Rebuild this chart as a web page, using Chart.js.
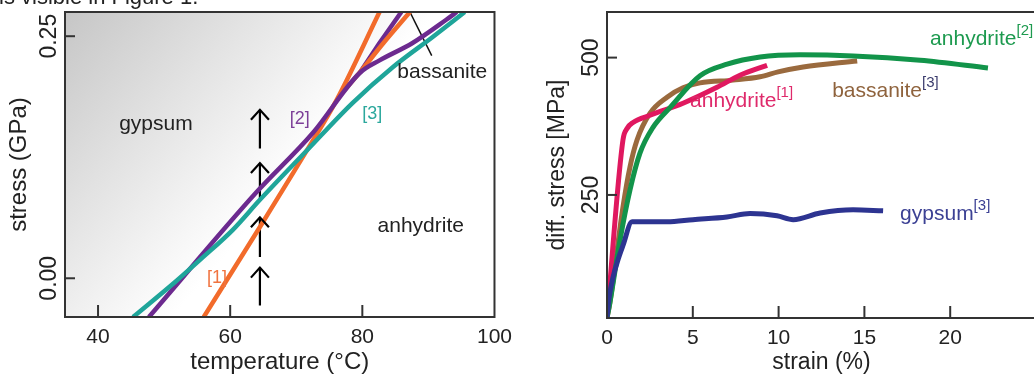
<!DOCTYPE html>
<html><head><meta charset="utf-8">
<script src="https://cdn.jsdelivr.net/npm/chart.js@4.4.1/dist/chart.umd.min.js"></script>
<style>
html,body{margin:0;padding:0;background:#fff;overflow:hidden;width:1034px;height:376px;}
#wrap{position:relative;width:1034px;height:376px;overflow:hidden;}
#c1{position:absolute;left:0;top:0;}
#c2{position:absolute;left:520px;top:0;}
#cap{position:absolute;left:-1px;top:-14px;font:22px "Liberation Sans",Arial,sans-serif;color:#222;line-height:22px;white-space:nowrap;}
</style></head><body>
<div id="wrap">
<canvas id="c1" width="520" height="376"></canvas>
<canvas id="c2" width="560" height="376"></canvas>
<div id="cap">is visible in Figure 1.</div>
</div>
<script>
// ---------- tick labels ----------
const tempTicks = [40, 60, 80, 100];
const stressGPaTicks = [0.00, 0.25];
const strainTicks = [0, 5, 10, 15, 20];
const diffStressTicks = [250, 500];

// ---------- left panel: phase boundaries (temperature °C, stress GPa) ----------
const ref1Temp = [56.0, 64.5, 71.6, 76.1, 82.6];
const ref1Stress = [-0.040, 0.053, 0.132, 0.184, 0.275];
const ref1BassTemp = [77.0, 79.9, 83.2, 87.2];
const ref1BassStress = [0.192, 0.215, 0.243, 0.275];
const ref2Temp = [47.7, 64.0, 72.5, 79.6, 82.6, 87.6, 92.7, 94.3];
const ref2Stress = [-0.040, 0.089, 0.150, 0.212, 0.225, 0.243, 0.267, 0.275];
const ref2BassTemp = [79.6, 82.6, 85.9];
const ref2BassStress = [0.212, 0.243, 0.275];
const ref3Temp = [45.3, 51.8, 55.6, 60.4, 64.5, 71.6, 78.5, 84.6, 90.6, 95.5];
const ref3Stress = [-0.040, -0.003, 0.020, 0.050, 0.081, 0.132, 0.181, 0.218, 0.249, 0.275];
const arrowTemp = 64.5;
const arrowFrom = [-0.028, 0.022, 0.079, 0.134];
const arrowTo = [0.011, 0.063, 0.119, 0.174];
const leaderTemp = [87.2, 90.5];
const leaderStress = [0.275, 0.230];

// ---------- right panel: stress-strain (strain %, diff. stress MPa) ----------
const anh1Strain = [0, 0.93, 1.17, 1.52, 2.51, 4.43, 6.41, 7.75, 9.33];
const anh1Stress = [26, 350, 371, 382, 395, 417, 446, 468, 486];
const anh2Strain = [0, 0.17, 0.76, 1.34, 1.92, 2.68, 3.67, 5.42, 7.0, 8.92, 11.25, 14.34, 18.25, 22.2];
const anh2Stress = [26, 54, 168, 259, 326, 373, 409, 467, 488, 501, 505, 503, 495, 481];
const bas3Strain = [0, 0.17, 0.93, 1.34, 1.75, 2.51, 3.5, 4.43, 5.42, 7.35, 8.92, 9.97, 11.43, 14.58];
const bas3Stress = [26, 54, 228, 301, 350, 399, 428, 445, 454, 459, 465, 474, 483, 494];
const gyp3Strain = [0, 0.12, 0.35, 0.65, 0.93, 1.46, 3.5, 5.01, 6.99, 8.34, 9.91, 10.85, 12.42, 14.34, 16.09];
const gyp3Stress = [26, 62, 100, 133, 158, 201, 201, 205, 210, 216, 212, 205, 217, 223, 221];

// ---------- helpers ----------
const FAMILY = '"Liberation Sans", Arial, Helvetica, sans-serif';
const zip = (xs, ys) => xs.map((x, i) => ({ x: x, y: ys[i] }));

function drawRich(ctx, x, y, parts, size) {
  let cx = x;
  ctx.textAlign = 'left';
  ctx.textBaseline = 'alphabetic';
  for (const p of parts) {
    const s = p.sup ? Math.round(size * 0.72) : size;
    ctx.font = s + 'px ' + FAMILY;
    ctx.fillStyle = p.color;
    ctx.fillText(p.text, cx, y - (p.sup ? size * 0.48 : 0));
    cx += ctx.measureText(p.text).width;
  }
}

const overlay = {
  id: 'overlay',
  beforeDatasetsDraw(chart, args, opts) {
    const ca = chart.chartArea, ctx = chart.ctx;
    if (opts.gradient) {
      ctx.save();
      const g = ctx.createLinearGradient(ca.left, ca.top, ca.left + 0.55 * (ca.right - ca.left), ca.top + 0.67 * (ca.bottom - ca.top));
      g.addColorStop(0, '#c6c6c6');
      g.addColorStop(0.45, '#e3e3e3');
      g.addColorStop(0.75, '#f6f6f6');
      g.addColorStop(0.9, '#ffffff');
      g.addColorStop(1, '#ffffff');
      ctx.fillStyle = g;
      ctx.fillRect(ca.left, ca.top, ca.right - ca.left, ca.bottom - ca.top);
      ctx.restore();
    }
  },
  afterDatasetsDraw(chart, args, opts) {
    const ca = chart.chartArea, ctx = chart.ctx;
    const xs = chart.scales.x, ys = chart.scales.y;
    ctx.save();
    // arrow heads
    chart.data.datasets.forEach((ds, i) => {
      if (!ds.arrow) return;
      const pts = chart.getDatasetMeta(i).data;
      const p = pts[pts.length - 1];
      ctx.strokeStyle = ds.borderColor;
      ctx.lineWidth = ds.borderWidth;
      ctx.lineCap = 'butt';
      ctx.beginPath();
      ctx.moveTo(p.x - 9, p.y + 10);
      ctx.lineTo(p.x, p.y);
      ctx.lineTo(p.x + 9, p.y + 10);
      ctx.stroke();
    });
    // frame
    ctx.strokeStyle = '#333';
    ctx.lineWidth = 2;
    ctx.strokeRect(ca.left, ca.top, ca.right - ca.left, ca.bottom - ca.top);
    // inward ticks
    xs.ticks.forEach(t => {
      const px = xs.getPixelForValue(t.value);
      if (px <= ca.left + 1 || px >= ca.right - 1) return;
      ctx.beginPath(); ctx.moveTo(px, ca.bottom); ctx.lineTo(px, ca.bottom - 12); ctx.stroke();
    });
    ys.ticks.forEach(t => {
      const py = ys.getPixelForValue(t.value);
      ctx.beginPath(); ctx.moveTo(ca.left, py); ctx.lineTo(ca.left + 10, py); ctx.stroke();
    });
    // rotated y tick labels
    ctx.fillStyle = '#222';
    ctx.font = '23px ' + FAMILY;
    ctx.textAlign = 'center';
    ctx.textBaseline = 'middle';
    ys.ticks.forEach(t => {
      const py = ys.getPixelForValue(t.value);
      ctx.save();
      ctx.translate(ca.left - 15, py);
      ctx.rotate(-Math.PI / 2);
      ctx.fillText(opts.yFmt(t.value), 0, 0);
      ctx.restore();
    });
    // annotations
    (opts.notes || []).forEach(n => {
      drawRich(ctx, xs.getPixelForValue(n.x), ys.getPixelForValue(n.y), n.parts, n.size);
    });
    ctx.restore();
  }
};

function lineDs(pts, color, width, tension, extra) {
  return Object.assign({
    data: pts, borderColor: color, borderWidth: width, showLine: true,
    pointRadius: 0, fill: false, tension: tension, borderCapStyle: 'butt', borderJoinStyle: 'round'
  }, extra || {});
}

function axisCommon(min, max, tickList) {
  return {
    type: 'linear', min: min, max: max,
    afterBuildTicks: s => { s.ticks = tickList.map(v => ({ value: v })); },
    grid: { display: false, drawTicks: false },
    border: { display: false }
  };
}

// ---------- left chart ----------
const leftDatasets = [
  lineDs(zip(ref3Temp, ref3Stress), '#1fa59a', 4.5, 0, { cubicInterpolationMode: 'monotone' }),
  lineDs(zip(ref2Temp, ref2Stress), '#6c2a8f', 4.5, 0, { cubicInterpolationMode: 'monotone' }),
  lineDs(zip(ref1Temp, ref1Stress), '#f26b2b', 4.5, 0, { cubicInterpolationMode: 'monotone' }),
  lineDs(zip(ref1BassTemp, ref1BassStress), '#f26b2b', 4.5, 0, { cubicInterpolationMode: 'monotone' }),
  lineDs(zip(ref2BassTemp, ref2BassStress), '#6c2a8f', 4.5, 0),
  lineDs(zip(leaderTemp, leaderStress), '#111', 1.5, 0)
];
arrowFrom.forEach((v, i) => {
  leftDatasets.push(lineDs([{ x: arrowTemp, y: v }, { x: arrowTemp, y: arrowTo[i] }], '#000', 2.2, 0, { arrow: true }));
});

new Chart(document.getElementById('c1'), {
  type: 'scatter',
  data: { datasets: leftDatasets },
  options: {
    responsive: false, animation: false, events: [],
    layout: { padding: { left: 0, right: 25, top: 12, bottom: 0 } },
    plugins: {
      legend: { display: false }, tooltip: { enabled: false },
      overlay: {
        gradient: true,
        yFmt: v => v.toFixed(2),
        notes: [
          { x: 43.2, y: 0.153, size: 21, parts: [{ text: 'gypsum', color: '#222' }] },
          { x: 82.3, y: 0.0475, size: 21, parts: [{ text: 'anhydrite', color: '#222' }] },
          { x: 85.3, y: 0.2066, size: 21, parts: [{ text: 'bassanite', color: '#222' }] },
          { x: 56.5, y: -0.005, size: 18, parts: [{ text: '[1]', color: '#f0733f' }] },
          { x: 69.0, y: 0.159, size: 18, parts: [{ text: '[2]', color: '#7d3f98' }] },
          { x: 80.0, y: 0.164, size: 18, parts: [{ text: '[3]', color: '#2ca89d' }] }
        ]
      }
    },
    scales: {
      x: Object.assign(axisCommon(35, 100, tempTicks), {
        afterFit: s => { s.height = 59; },
        ticks: { font: { size: 21, family: FAMILY }, color: '#222', padding: 8, maxRotation: 0, autoSkip: false },
        title: { display: true, text: 'temperature (°C)', color: '#222', font: { size: 24, family: FAMILY, lineHeight: 1.1 }, padding: { top: 0, bottom: 0 } }
      }),
      y: Object.assign(axisCommon(-0.04, 0.275, stressGPaTicks), {
        afterFit: s => { s.width = 65; },
        ticks: { display: false },
        title: { display: true, text: 'stress (GPa)', color: '#222', font: { size: 24, family: FAMILY, lineHeight: 1.1 }, padding: { top: 6, bottom: 0 } }
      })
    }
  },
  plugins: [overlay]
});

// ---------- right chart ----------
new Chart(document.getElementById('c2'), {
  type: 'scatter',
  data: {
    datasets: [
      lineDs(zip(gyp3Strain, gyp3Stress), '#2d3491', 5, 0, { cubicInterpolationMode: 'monotone' }),
      lineDs(zip(anh2Strain, anh2Stress), '#12944a', 5, 0, { cubicInterpolationMode: 'monotone' }),
      lineDs(zip(anh1Strain, anh1Stress), '#e0185f', 5, 0, { cubicInterpolationMode: 'monotone' }),
      lineDs(zip(bas3Strain, bas3Stress), '#9a6a3e', 5, 0, { cubicInterpolationMode: 'monotone' })
    ]
  },
  options: {
    responsive: false, animation: false, events: [],
    layout: { padding: { left: 0, right: 44, top: 12, bottom: 0 } },
    plugins: {
      legend: { display: false }, tooltip: { enabled: false },
      overlay: {
        gradient: false,
        yFmt: v => String(v),
        notes: [
          { x: 18.83, y: 523, size: 21, parts: [{ text: 'anhydrite', color: '#1d9a4f' }, { text: '[2]', color: '#1d9a4f', sup: true }] },
          { x: 4.84, y: 410, size: 21, parts: [{ text: 'anhydrite', color: '#df2a6b' }, { text: '[1]', color: '#df2a6b', sup: true }] },
          { x: 13.12, y: 428, size: 21, parts: [{ text: 'bassanite', color: '#8f633d' }, { text: '[3]', color: '#3c3d6e', sup: true }] },
          { x: 17.08, y: 204, size: 21, parts: [{ text: 'gypsum', color: '#3c4194' }, { text: '[3]', color: '#3c4194', sup: true }] }
        ]
      }
    },
    scales: {
      x: Object.assign(axisCommon(0, 25, strainTicks), {
        afterFit: s => { s.height = 58; },
        ticks: { font: { size: 21, family: FAMILY }, color: '#222', padding: 8, maxRotation: 0, autoSkip: false },
        title: { display: true, text: 'strain (%)', color: '#222', font: { size: 23, family: FAMILY, lineHeight: 1.15 }, padding: { top: 0, bottom: 0 } }
      }),
      y: Object.assign(axisCommon(26, 583, diffStressTicks), {
        afterFit: s => { s.width = 87; },
        ticks: { display: false },
        title: { display: true, text: 'diff. stress [MPa]', color: '#222', font: { size: 23, family: FAMILY, lineHeight: 1.1 }, padding: { top: 25, bottom: 0 } }
      })
    }
  },
  plugins: [overlay]
});
</script>
</body></html>
